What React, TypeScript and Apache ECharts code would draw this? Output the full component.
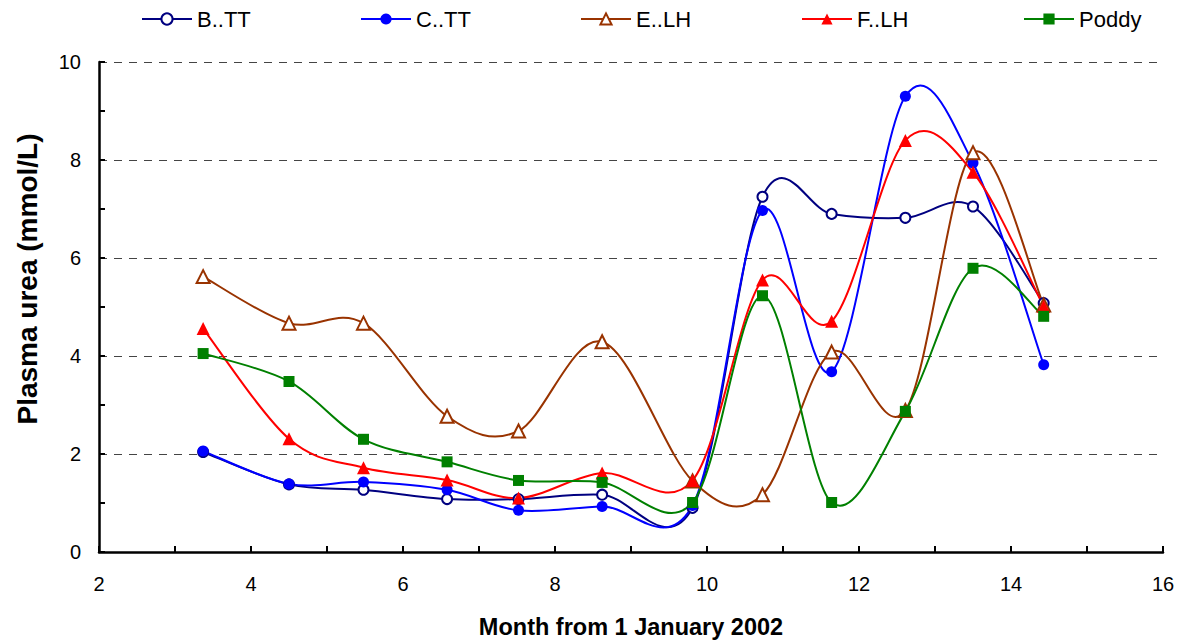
import React, { useEffect, useRef } from "react";
import * as echarts from "echarts";

const months = [3.37, 4.5, 5.48, 6.58, 7.52, 8.62, 9.81, 10.73, 11.64, 12.61, 13.5, 14.43];
const bTT = [2.04, 1.38, 1.27, 1.08, 1.08, 1.17, 0.9, 7.25, 6.9, 6.82, 7.05, 5.08];
const cTT = [2.06, 1.39, 1.43, 1.27, 0.85, 0.93, 0.95, 6.97, 3.68, 9.3, 7.94, 3.82];
const eLH = [5.62, 4.67, 4.67, 2.77, 2.47, 4.29, 1.45, 1.17, 4.08, 2.89, 8.15, 5.04];
const fLH = [4.56, 2.31, 1.72, 1.47, 1.1, 1.61, 1.46, 5.55, 4.71, 8.4, 7.75, 5.01];
const poddy = [4.05, 3.48, 2.3, 1.84, 1.46, 1.42, 1.01, 5.23, 1.01, 2.87, 5.79, 4.81];

const seriesNames = ["B..TT", "C..TT", "E..LH", "F..LH", "Poddy"];
const seriesValues = [bTT, cTT, eLH, fLH, poddy];
const seriesColors = ["#000080", "#0000FF", "#993300", "#FF0000", "#008000"];
const seriesSymbols = ["emptyCircle", "circle", "emptyTriangle", "triangle", "rect"];
const symbolSizes = [10, 11, 13, 13, 11];
const legendLefts = [141, 360, 580, 801, 1023];

const FONT = "'Liberation Sans', Arial, sans-serif";

export default function App() {
  const ref = useRef<HTMLDivElement>(null);
  useEffect(() => {
    if (!ref.current) return;
    const chart = echarts.init(ref.current, null, { renderer: "svg" });

    // Smoothed curves (Catmull-Rom style Bezier, like a spreadsheet's smoothed line)
    const curveSeries = seriesNames.map((name, i) => {
      const vals = seriesValues[i];
      const n = months.length;
      return {
        name: name + "-curve",
        type: "custom",
        coordinateSystem: "cartesian2d",
        silent: true,
        z: 2,
        encode: { x: 0, y: 1 },
        data: months.map((m, j) => [m, vals[j]]),
        renderItem: (params: any, api: any) => {
          const j = params.dataIndex;
          if (j >= n - 1) return null;
          const pt = (k: number) => {
            const kk = Math.max(0, Math.min(n - 1, k));
            return api.coord([months[kk], vals[kk]]);
          };
          const p0 = pt(j - 1);
          const p1 = pt(j);
          const p2 = pt(j + 1);
          const p3 = pt(j + 2);
          const t = 1 / 6;
          return {
            type: "bezierCurve",
            shape: {
              x1: p1[0],
              y1: p1[1],
              x2: p2[0],
              y2: p2[1],
              cpx1: p1[0] + (p2[0] - p0[0]) * t,
              cpy1: p1[1] + (p2[1] - p0[1]) * t,
              cpx2: p2[0] - (p3[0] - p1[0]) * t,
              cpy2: p2[1] - (p3[1] - p1[1]) * t,
            },
            style: { stroke: seriesColors[i], lineWidth: 2, fill: null },
          };
        },
      };
    });

    const markerSeries = seriesNames.map((name, i) => {
      const empty = seriesSymbols[i].startsWith("empty");
      return {
        name,
        type: "line",
        data: months.map((m, j) => [m, seriesValues[i][j]]),
        symbol: seriesSymbols[i],
        symbolSize: symbolSizes[i],
        lineStyle: { color: seriesColors[i], width: 2, opacity: 0 },
        itemStyle: {
          color: seriesColors[i],
          borderWidth: empty ? 2 : 0,
        },
        z: 3 + i,
      };
    });

    const legends = seriesNames.map((name, i) => ({
      data: [name],
      left: legendLefts[i],
      top: 8,
      padding: 0,
      itemWidth: 50,
      itemHeight: 14,
      itemGap: 6,
      lineStyle: { color: seriesColors[i], width: 2, opacity: 1, type: "solid" },
      textStyle: { fontFamily: FONT, fontSize: 22, color: "#000" },
    }));

    chart.setOption({
      animation: false,
      backgroundColor: "#ffffff",
      legend: legends,
      grid: { left: 99, right: 17, top: 62, bottom: 86, containLabel: false },
      xAxis: {
        type: "value",
        min: 2,
        max: 16,
        interval: 2,
        name: "Month from 1 January 2002",
        nameLocation: "middle",
        nameGap: 63,
        nameTextStyle: { fontFamily: FONT, fontSize: 23.5, fontWeight: "bold", color: "#000" },
        axisLine: { show: true, onZero: false, lineStyle: { color: "#000", width: 2.5 } },
        axisTick: { show: true, inside: true, length: 6, lineStyle: { color: "#000", width: 2 } },
        minorTick: { show: true, splitNumber: 2, length: 6, lineStyle: { color: "#000", width: 2 } },
        axisLabel: { fontFamily: FONT, fontSize: 20, color: "#000", margin: 22 },
        splitLine: { show: false },
      },
      yAxis: {
        type: "value",
        min: 0,
        max: 10,
        interval: 2,
        name: "Plasma urea (mmol/L)",
        nameLocation: "middle",
        nameGap: 58,
        nameTextStyle: {
          fontFamily: FONT,
          fontSize: 28,
          fontWeight: "bold",
          color: "#000",
          padding: [0, 0, 0, 56],
        },
        axisLine: { show: true, lineStyle: { color: "#000", width: 2.5 } },
        axisTick: { show: true, inside: true, length: 6, lineStyle: { color: "#000", width: 2 } },
        minorTick: { show: true, splitNumber: 2, length: 6, lineStyle: { color: "#000", width: 2 } },
        axisLabel: { fontFamily: FONT, fontSize: 20, color: "#000", margin: 18 },
        splitLine: { show: true, lineStyle: { color: "#444", width: 1.2, type: [8, 7] } },
      },
      series: [...curveSeries, ...markerSeries],
    });
    return () => chart.dispose();
  }, []);
  return (
    <div
      ref={ref}
      style={{ position: "fixed", left: 0, top: 0, width: 1180, height: 644 }}
    />
  );
}
